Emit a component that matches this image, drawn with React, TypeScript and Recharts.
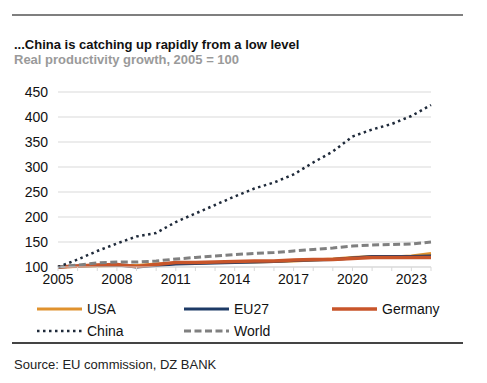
import { CartesianGrid, Line, LineChart, XAxis, YAxis } from "recharts";

const YEARS = [
  2005, 2006, 2007, 2008, 2009, 2010, 2011, 2012, 2013, 2014, 2015, 2016, 2017, 2018, 2019, 2020,
  2021, 2022, 2023, 2024
];
const USA = [100, 101, 102, 103, 103, 106, 107, 108, 109, 110, 110, 111, 112, 114, 116, 119, 121, 120, 122, 127];
const EU27 = [100, 102, 103, 104, 100, 103, 106, 107, 108, 109, 110, 111, 113, 114, 115, 118, 121, 121, 121, 122];
const GERMANY = [100, 102, 104, 105, 101, 105, 109, 109, 110, 111, 112, 112, 114, 115, 115, 117, 119, 119, 119, 119];
const CHINA = [100, 115, 132, 147, 161, 168, 190, 207, 224, 241, 257, 269, 285, 309, 331, 361, 375, 386, 402, 424];
const WORLD = [100, 104, 108, 110, 110, 112, 116, 119, 122, 125, 127, 129, 132, 135, 138, 142, 144, 145, 146, 150];

const Y_TICKS = [100, 150, 200, 250, 300, 350, 400, 450];
const LABEL_YEARS = [2005, 2008, 2011, 2014, 2017, 2020, 2023];

const data = YEARS.map((year, i) => ({
  year,
  usa: USA[i],
  eu27: EU27[i],
  germany: GERMANY[i],
  china: CHINA[i],
  world: WORLD[i]
}));

const C_USA = "#e0922e";
const C_EU = "#1d3a66";
const C_DE = "#c8552a";
const C_CN = "#1f2a3a";
const C_WORLD = "#808080";
const GRID = "#d9d9d9";
const FONT = "'Liberation Sans', Arial, sans-serif";

type LegendItem = { name: string; color: string; width: number; dash?: string; x: number; y: number };

const LEGEND: LegendItem[] = [
  { name: "USA", color: C_USA, width: 3, x: 37, y: 309 },
  { name: "EU27", color: C_EU, width: 3, x: 184, y: 309 },
  { name: "Germany", color: C_DE, width: 3.5, x: 332, y: 309 },
  { name: "China", color: C_CN, width: 2.5, dash: "2.5 3.5", x: 37, y: 331 },
  { name: "World", color: C_WORLD, width: 3, dash: "7 3.5", x: 184, y: 331 }
];

export default function App() {
  return (
    <div
      style={{
        position: "absolute",
        left: 0,
        top: 0,
        width: 487,
        height: 383,
        background: "#fff",
        fontFamily: FONT,
        overflow: "hidden"
      }}
    >
      <div style={{ position: "absolute", left: 12, top: 14, width: 451, height: 2, background: "#7f7f7f" }} />
      <div
        style={{ position: "absolute", left: 14, top: 37, fontSize: 13, fontWeight: 700, color: "#111", lineHeight: "16px" }}
      >
        ...China is catching up rapidly from a low level
      </div>
      <div
        style={{ position: "absolute", left: 14, top: 52, fontSize: 13, fontWeight: 700, color: "#9a9a9a", lineHeight: "16px" }}
      >
        Real productivity growth, 2005 = 100
      </div>

      <div style={{ position: "absolute", left: 0, top: 80 }}>
        <LineChart width={487} height={212} data={data} margin={{ top: 12, right: 56, left: 0, bottom: 0 }}>
          <CartesianGrid stroke={GRID} vertical={false} />
          <XAxis
            dataKey="year"
            type="number"
            domain={[2005, 2024]}
            ticks={YEARS}
            interval={0}
            tickFormatter={(v) => (LABEL_YEARS.includes(Number(v)) ? String(v) : "")}
            tick={{ fontSize: 14, fill: "#111", fontFamily: FONT }}
            tickLine={{ stroke: GRID }}
            tickSize={4}
            tickMargin={3}
            axisLine={{ stroke: GRID }}
            height={25}
          />
          <YAxis
            domain={[100, 450]}
            ticks={Y_TICKS}
            interval={0}
            tick={{ fontSize: 14, fill: "#111", fontFamily: FONT }}
            tickLine={false}
            axisLine={false}
            tickSize={0}
            tickMargin={10}
            width={58}
          />
          <Line dataKey="usa" stroke={C_USA} strokeWidth={3} dot={false} isAnimationActive={false} />
          <Line dataKey="eu27" stroke={C_EU} strokeWidth={3} dot={false} isAnimationActive={false} />
          <Line dataKey="germany" stroke={C_DE} strokeWidth={3.5} dot={false} isAnimationActive={false} />
          <Line
            dataKey="world"
            stroke={C_WORLD}
            strokeWidth={3}
            strokeDasharray="7 3.5"
            dot={false}
            isAnimationActive={false}
          />
          <Line
            dataKey="china"
            stroke={C_CN}
            strokeWidth={2.5}
            strokeDasharray="2.5 3.5"
            dot={false}
            isAnimationActive={false}
          />
        </LineChart>
      </div>

      {LEGEND.map((item) => (
        <div
          key={item.name}
          style={{ position: "absolute", left: item.x, top: item.y - 9, height: 18, display: "flex", alignItems: "center" }}
        >
          <svg width={46} height={18}>
            <line
              x1={0}
              y1={9}
              x2={45}
              y2={9}
              stroke={item.color}
              strokeWidth={item.width}
              strokeDasharray={item.dash}
            />
          </svg>
          <span style={{ marginLeft: 4, fontSize: 14, color: "#111" }}>{item.name}</span>
        </div>
      ))}

      <div style={{ position: "absolute", left: 12, top: 342, width: 451, height: 1.5, background: "#444" }} />
      <div style={{ position: "absolute", left: 14, top: 357, fontSize: 13, color: "#222", lineHeight: "16px" }}>
        Source: EU commission, DZ BANK
      </div>
    </div>
  );
}
